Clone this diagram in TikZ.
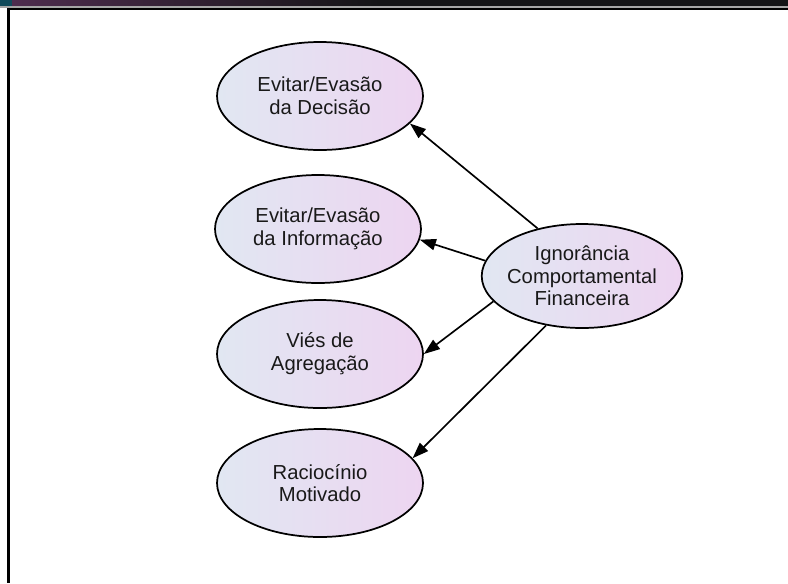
\documentclass[tikz,border=0pt]{standalone}
\usepackage{fontspec}
\setmainfont{Liberation Sans}
\usepackage{xcolor}
\usepackage{tikz}
\usetikzlibrary{shapes.geometric, arrows.meta}
\definecolor{ellleft}{RGB}{225,231,242}
\definecolor{ellright}{RGB}{237,213,241}
\definecolor{bartealc}{RGB}{16,74,90}
\definecolor{barpurple}{RGB}{78,44,78}
\definecolor{bardark}{RGB}{20,20,22}
\definecolor{txtgray}{RGB}{25,25,25}

\begin{document}
\begin{tikzpicture}[x=0.75pt, y=-0.75pt,
  ell/.style={ellipse, draw=black, line width=1.3pt, inner sep=0pt,
              left color=ellleft, right color=ellright,
              minimum width=154.5pt, minimum height=81pt,
              font=\fontsize{15.2}{17}\selectfont, text=txtgray, align=center},
  arr/.style={-{Triangle[length=12pt, width=8.5pt]}, line width=1.25pt, black},
]
  \useasboundingbox (0,0) rectangle (788,583);

  % Frame
  \fill[bartealc] (0,0) rectangle (12,6);
  \shade[left color=barpurple, right color=bardark] (12,0) rectangle (380,6);
  \fill[bardark] (380,0) rectangle (788,6);
  \fill[gray!70] (0,6) rectangle (788,7.5);
  \draw[line width=1.6pt, black] (7,9) -- (788,9);
  \draw[line width=2.2pt, black] (8.5,8) -- (8.5,583);

  % Nodes
  \node[ell] (decisao) at (320,96)  {Evitar/Evasão\\da Decisão};
  \node[ell] (informacao) at (318,229) {Evitar/Evasão\\da Informação};
  \node[ell] (agregacao) at (320,354) {Viés de\\Agregação};
  \node[ell] (motivado) at (320,483) {Raciocínio\\Motivado};

  \node[ell, minimum width=149pt, minimum height=78pt, inner xsep=-3pt]
    (ignorancia) at (582,276) {Ignorância\\Comportamental\\Financeira};

  % Connectors
  \draw[arr] (ignorancia.133.7) -- (decisao.-17.5);
  \draw[arr] (ignorancia.171.8) -- (informacao.-6.3);
  \draw[arr] (ignorancia.196.6) -- (agregacao.0);
  \draw[arr] (ignorancia.234) -- (motivado.15.3);
\end{tikzpicture}
\end{document}
